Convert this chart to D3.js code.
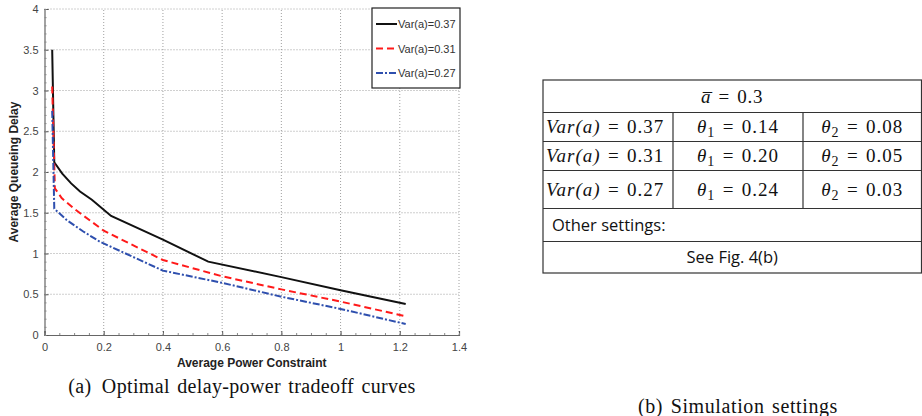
<!DOCTYPE html>
<html>
<head>
<meta charset="utf-8">
<script src="https://cdn.jsdelivr.net/npm/d3@7"></script>
<style>
  body { margin: 0; background: #fff; }
  svg { display: block; }
</style>
</head>
<body>
<div id="chart"></div>
<script>
// curve data
const x037 = [0.026, 0.033, 0.06, 0.09, 0.12, 0.16, 0.225, 0.4, 0.553, 0.8, 1.0, 1.22]
const y037 = [3.5, 2.12, 1.98, 1.86, 1.76, 1.66, 1.46, 1.17, 0.9, 0.71, 0.55, 0.38]
const x031 = [0.026, 0.035, 0.058, 0.1, 0.2, 0.4, 0.6, 0.8, 1.0, 1.22]
const y031 = [3.05, 1.8, 1.68, 1.55, 1.28, 0.92, 0.72, 0.56, 0.41, 0.23]
const x027 = [0.026, 0.033, 0.075, 0.131, 0.187, 0.4, 0.6, 0.8, 1.0, 1.22]
const y027 = [2.75, 1.55, 1.41, 1.27, 1.145, 0.79, 0.64, 0.47, 0.32, 0.135]
const seriesNames = ["Var(a)=0.37", "Var(a)=0.31", "Var(a)=0.27"]
const xTicks = [0, 0.2, 0.4, 0.6, 0.8, 1, 1.2, 1.4]
const yTicks = [0, 0.5, 1, 1.5, 2, 2.5, 3, 3.5, 4]

// table contents
const varRows = ["0.37", "0.31", "0.27"]
const theta1 = ["0.14", "0.20", "0.24"]
const theta2 = ["0.08", "0.05", "0.03"]

const W = 922, H = 416
const svg = d3.select("#chart").append("svg").attr("width", W).attr("height", H)

const x = d3.scaleLinear().domain([0, 1.4]).range([44.5, 459])
const y = d3.scaleLinear().domain([0, 4]).range([335, 9])

// grid
const grid = svg.append("g")
grid.selectAll("line.gx").data(xTicks.slice(1)).join("line")
    .attr("x1", d => x(d)).attr("x2", d => x(d)).attr("y1", y(0)).attr("y2", y(4))
    .attr("stroke", "#888").attr("stroke-width", 0.8).attr("stroke-dasharray", "1,2")
grid.selectAll("line.gy").data(yTicks.slice(1)).join("line")
    .attr("y1", d => y(d)).attr("y2", d => y(d)).attr("x1", x(0)).attr("x2", x(1.4))
    .attr("stroke", "#888").attr("stroke-width", 0.8).attr("stroke-dasharray", "1,2")

// axes
let xAxis = svg.append("g").attr("transform", `translate(0,${y(0)})`)
    .call(d3.axisBottom(x).tickValues(xTicks).tickSize(-4).tickPadding(8).tickFormat(d3.format("")))
let yAxis = svg.append("g").attr("transform", `translate(${x(0)},0)`)
    .call(d3.axisLeft(y).tickValues(yTicks).tickSize(-4).tickPadding(6).tickFormat(d3.format("")))
// minor ticks
svg.append("g").attr("transform", `translate(${x(0)},0)`)
    .call(d3.axisLeft(y).ticks(40).tickSize(-2).tickFormat(""))
    .call(g => g.select(".domain").remove())
    .selectAll("line").attr("stroke", "#888")
svg.append("g").attr("transform", `translate(0,${y(0)})`)
    .call(d3.axisBottom(x).ticks(28).tickSize(-2).tickFormat(""))
    .call(g => g.select(".domain").remove())
    .selectAll("line").attr("stroke", "#888")

for (const ax of [xAxis, yAxis]) {
    ax.select(".domain").attr("stroke", "#666").attr("stroke-width", 1.2)
    ax.selectAll(".tick line").attr("stroke", "#555")
    ax.selectAll("text").attr("fill", "#444").attr("font-family", "Liberation Sans, Arial").attr("font-size", 11)
}

// curves
const line = d3.line().x(d => x(d[0])).y(d => y(d[1]))
const series = [
    { pts: d3.zip(x037, y037), color: "#111", dash: null },
    { pts: d3.zip(x031, y031), color: "#ff1a1a", dash: "7,4" },
    { pts: d3.zip(x027, y027), color: "#2e4fae", dash: "7,2,2,2" }
]
svg.append("g").selectAll("path").data(series).join("path")
    .attr("d", d => line(d.pts))
    .attr("fill", "none")
    .attr("stroke", d => d.color)
    .attr("stroke-width", 2)
    .attr("stroke-dasharray", d => d.dash)

// axis labels
svg.append("text").text("Average Power Constraint")
    .attr("x", x(0.7)).attr("y", 367).attr("text-anchor", "middle")
    .attr("font-family", "Liberation Sans, Arial").attr("font-weight", "bold").attr("font-size", 12).attr("fill", "#222")
svg.append("text").text("Average Queueing Delay")
    .attr("transform", `translate(18,${y(2)}) rotate(-90)`).attr("text-anchor", "middle")
    .attr("font-family", "Liberation Sans, Arial").attr("font-weight", "bold").attr("font-size", 12).attr("fill", "#222")

// legend
const lg = svg.append("g")
lg.append("rect").attr("x", 372).attr("y", 8).attr("width", 88).attr("height", 80)
    .attr("fill", "#fff").attr("stroke", "#222").attr("stroke-width", 1.2)
series.forEach((s, i) => {
    let ly = 24 + i * 24.5
    lg.append("line").attr("x1", 376).attr("x2", 397).attr("y1", ly).attr("y2", ly)
        .attr("stroke", s.color).attr("stroke-width", 2).attr("stroke-dasharray", s.dash)
    lg.append("text").text(seriesNames[i]).attr("x", 398).attr("y", ly + 4)
        .attr("font-family", "Liberation Sans, Arial").attr("font-size", 11).attr("fill", "#333")
})

// captions
svg.append("text").text("(a)\u2002Optimal delay-power tradeoff curves")
    .attr("x", 242).attr("y", 393).attr("text-anchor", "middle")
    .attr("font-family", "Liberation Serif, Times New Roman").attr("font-size", 20)
    .attr("letter-spacing", 0.35).attr("word-spacing", 2).attr("fill", "#111")
svg.append("text").text("(b) Simulation settings")
    .attr("x", 738).attr("y", 413).attr("text-anchor", "middle")
    .attr("font-family", "Liberation Serif, Times New Roman").attr("font-size", 20)
    .attr("letter-spacing", 0.6).attr("word-spacing", 2).attr("fill", "#111")

// settings table
const tb = svg.append("g")
const tl = 543, tr = 921.5, c1 = 673, c2 = 803
const rowY = [80, 112.5, 141.5, 170.5, 208.5, 241.5, 273]
const tfont = "Liberation Serif, DejaVu Serif, serif"
tb.append("rect").attr("x", tl).attr("y", rowY[0]).attr("width", tr - tl).attr("height", rowY[6] - rowY[0])
    .attr("fill", "none").attr("stroke", "#333").attr("stroke-width", 1.2)
rowY.slice(1, 6).forEach(ry => {
    tb.append("line").attr("x1", tl).attr("x2", tr).attr("y1", ry).attr("y2", ry)
        .attr("stroke", "#333").attr("stroke-width", 1.2)
})
for (const cx of [c1, c2]) {
    tb.append("line").attr("x1", cx).attr("x2", cx).attr("y1", rowY[1]).attr("y2", rowY[4])
        .attr("stroke", "#333").attr("stroke-width", 1.2)
}

const EQ = "\u2004=\u2004"
// header: a-bar = 0.3
let hdr = tb.append("text").attr("x", (tl + tr) / 2).attr("y", 103).attr("text-anchor", "middle")
    .attr("font-family", tfont).attr("font-size", 19).attr("letter-spacing", 0.8).attr("fill", "#111")
hdr.append("tspan").text("a\u0305").attr("font-style", "italic")
hdr.append("tspan").text(EQ + "0.3")

varRows.forEach((v, i) => {
    let cy = (rowY[i + 1] + rowY[i + 2]) / 2 + 6
    let t = tb.append("text").attr("x", 546).attr("y", cy)
        .attr("font-family", tfont).attr("font-size", 19).attr("letter-spacing", 1).attr("fill", "#111")
    t.append("tspan").text("Var(a)").attr("font-style", "italic")
    t.append("tspan").text(EQ + v)

    let a = tb.append("text").attr("x", (c1 + c2) / 2).attr("y", cy).attr("text-anchor", "middle")
        .attr("font-family", tfont).attr("font-size", 19).attr("letter-spacing", 1).attr("fill", "#111")
    a.append("tspan").text("\u03b8").attr("font-style", "italic")
    a.append("tspan").text("1").attr("font-size", 14).attr("dy", 4)
    a.append("tspan").text(EQ + theta1[i]).attr("dy", -4)

    let b = tb.append("text").attr("x", (c2 + tr) / 2).attr("y", cy).attr("text-anchor", "middle")
        .attr("font-family", tfont).attr("font-size", 19).attr("letter-spacing", 1).attr("fill", "#111")
    b.append("tspan").text("\u03b8").attr("font-style", "italic")
    b.append("tspan").text("2").attr("font-size", 14).attr("dy", 4)
    b.append("tspan").text(EQ + theta2[i]).attr("dy", -4)
})

tb.append("text").text("Other settings:").attr("x", 552).attr("y", 231)
    .attr("font-family", "Open Sans, Lato, sans-serif").attr("font-size", 16.5).attr("fill", "#111")
tb.append("text").text("See Fig. 4(b)").attr("x", (tl + tr) / 2).attr("y", 263).attr("text-anchor", "middle")
    .attr("font-family", "Open Sans, Lato, sans-serif").attr("font-size", 16.5).attr("fill", "#111")
</script>
</body>
</html>
